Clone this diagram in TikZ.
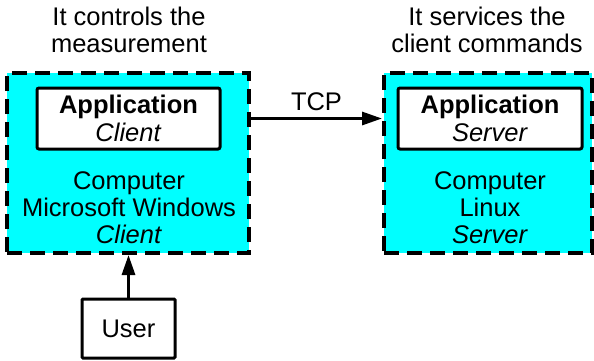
\documentclass[tikz,border=0pt]{standalone}
\usepackage{fontspec}
\setmainfont{Liberation Sans}
\usetikzlibrary{arrows.meta}
\definecolor{boxcyan}{RGB}{0,255,255}
\tikzset{
  computer/.style={draw=black, fill=boxcyan, line width=4pt, dash pattern=on 15pt off 8pt, inner sep=0pt},
  appbox/.style={draw=black, fill=white, line width=3pt, rounded corners=2pt, inner sep=0pt, align=center, font=\fontsize{25.5}{28}\selectfont},
  txt/.style={inner sep=0pt, align=center, font=\fontsize{25.5}{27}\selectfont},
  conn/.style={line width=3pt, -{Triangle[length=20pt,width=13pt]}}
}
\begin{document}
\begin{tikzpicture}[x=1pt,y=-1pt]
\useasboundingbox (0,0) rectangle (594,360);
% computers
\node[computer, minimum width=242pt, minimum height=180pt] (cL) at (128,163) {};
\node[computer, minimum width=208pt, minimum height=180pt] (cR) at (488,163) {};
% applications
\node[appbox, minimum width=183pt, minimum height=61pt] (aL) at (128.5,118.5) {\textbf{Application}\\\textit{Client}};
\node[appbox, minimum width=184pt, minimum height=61pt] (aR) at (490,118.5) {\textbf{Application}\\\textit{Server}};
% computer texts
\node[txt, anchor=north] (tL) at (129,171.5) {Computer\\Microsoft Windows\\\textit{Client}};
\node[txt, anchor=north] (tR) at (490,171.5) {Computer\\Linux\\\textit{Server}};
% top captions
\node[txt, anchor=north] (capL) at (129,7) {It controls the\\measurement};
\node[txt, anchor=north] (capR) at (487,7) {It services the\\client commands};
% user
\node[appbox, rounded corners=1pt, minimum width=93pt, minimum height=59pt, font=\fontsize{25.5}{27}\selectfont] (user) at (128.5,328.5) {User};
% connectors
\draw[conn] (user.north) -- (user.north |- cL.south);
\draw[conn] (aL -| cL.east) -- node[txt, above=6pt] (tcp) {TCP} (aL -| cR.west);
\end{tikzpicture}
\end{document}
